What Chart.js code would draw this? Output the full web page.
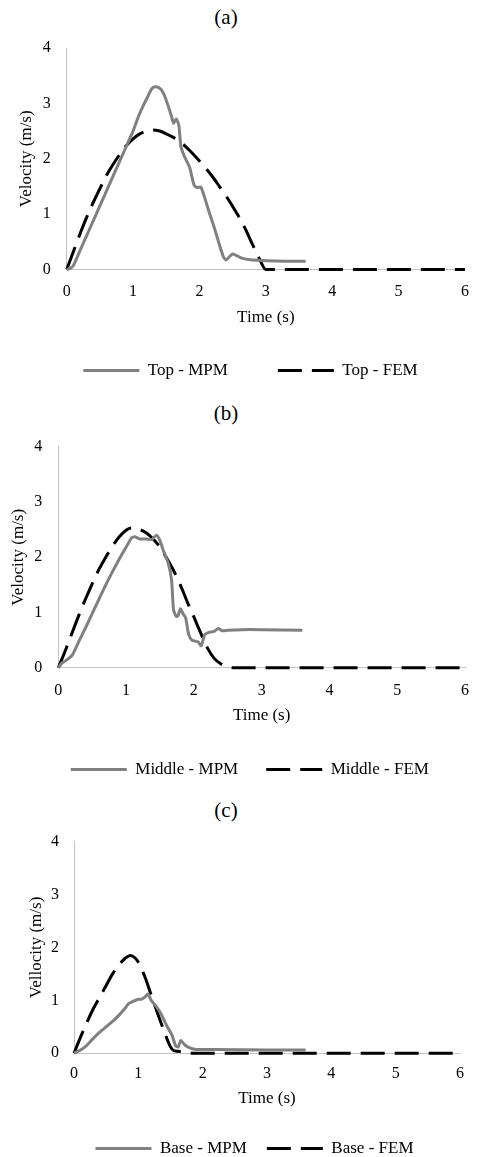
<!DOCTYPE html>
<html>
<head>
<meta charset="utf-8">
<script src="https://cdn.jsdelivr.net/npm/chart.js@4.4.1/dist/chart.umd.min.js"></script>
<style>
  html, body { margin: 0; padding: 0; background: #fff; overflow: hidden; }
  body { width: 482px; height: 1157px; position: relative; }
  canvas { position: absolute; left: 0; }
  .panel-label {
    position: absolute; left: 0; width: 452px; text-align: center;
    font-family: "Liberation Serif", "Times New Roman", serif;
    font-size: 21px; line-height: 24px; color: #000;
  }
</style>
</head>
<body>
<div class="panel-label" style="top:5px">(a)</div>
<div class="panel-label" style="top:401px">(b)</div>
<div class="panel-label" style="top:798px">(c)</div>
<canvas id="chart-a" width="482" height="389" style="top:0px"></canvas>
<canvas id="chart-b" width="482" height="399" style="top:389px"></canvas>
<canvas id="chart-c" width="482" height="379" style="top:788px"></canvas>
<script>
// ---- data (time in s, velocity in m/s) ----
const xTicks = [0, 1, 2, 3, 4, 5, 6];
const yTicks = [0, 1, 2, 3, 4];

// (a) Top
const timeTopMPM = [0, 0.05, 0.1, 0.2, 0.3, 0.4, 0.5, 0.6, 0.7, 0.8, 0.9, 1.0, 1.08, 1.15, 1.22, 1.28, 1.33, 1.38, 1.43, 1.48, 1.53, 1.58, 1.61, 1.65, 1.69, 1.72, 1.77, 1.85, 1.92, 1.97, 2.02, 2.07, 2.15, 2.22, 2.3, 2.36, 2.4, 2.45, 2.5, 2.56, 2.65, 2.8, 3.0, 3.3, 3.6];
const velTopMPM = [0, 0.02, 0.07, 0.34, 0.61, 0.88, 1.15, 1.42, 1.69, 1.96, 2.23, 2.5, 2.76, 2.95, 3.12, 3.26, 3.30, 3.29, 3.24, 3.12, 2.95, 2.76, 2.64, 2.72, 2.6, 2.22, 2.05, 1.85, 1.52, 1.48, 1.49, 1.33, 1.02, 0.77, 0.45, 0.23, 0.17, 0.23, 0.28, 0.25, 0.2, 0.17, 0.16, 0.15, 0.15];
const timeTopFEM = [0, 0.1, 0.2, 0.3, 0.4, 0.5, 0.6, 0.7, 0.8, 0.9, 1.0, 1.1, 1.2, 1.3, 1.4, 1.5, 1.6, 1.7, 1.8, 1.9, 2.0, 2.1, 2.2, 2.3, 2.4, 2.5, 2.6, 2.7, 2.8, 2.9, 3.0, 6.0];
const velTopFEM = [0, 0.32, 0.64, 0.94, 1.21, 1.46, 1.7, 1.9, 2.08, 2.24, 2.36, 2.45, 2.5, 2.52, 2.5, 2.45, 2.39, 2.31, 2.21, 2.09, 1.96, 1.82, 1.67, 1.5, 1.33, 1.14, 0.94, 0.71, 0.45, 0.2, 0, 0];

// (b) Middle
const timeMidMPM = [0, 0.05, 0.1, 0.2, 0.3, 0.4, 0.5, 0.6, 0.7, 0.8, 0.9, 1.0, 1.08, 1.13, 1.2, 1.3, 1.38, 1.45, 1.5, 1.55, 1.62, 1.67, 1.7, 1.74, 1.77, 1.8, 1.84, 1.88, 1.92, 1.97, 2.06, 2.11, 2.16, 2.22, 2.3, 2.36, 2.42, 2.5, 2.7, 3.0, 3.6];
const velMidMPM = [0, 0.08, 0.12, 0.22, 0.47, 0.72, 0.98, 1.24, 1.5, 1.74, 1.97, 2.18, 2.35, 2.37, 2.33, 2.33, 2.32, 2.4, 2.3, 2.12, 1.9, 1.6, 1.05, 0.93, 0.95, 1.07, 0.98, 0.9, 0.62, 0.5, 0.47, 0.4, 0.6, 0.64, 0.66, 0.71, 0.67, 0.68, 0.69, 0.69, 0.68];
const timeMidFEM = [0, 0.1, 0.2, 0.3, 0.4, 0.5, 0.6, 0.7, 0.8, 0.9, 1.0, 1.08, 1.2, 1.3, 1.4, 1.5, 1.6, 1.7, 1.8, 1.9, 2.0, 2.1, 2.2, 2.3, 2.4, 2.5, 2.6, 6.0];
const velMidFEM = [0, 0.3, 0.62, 0.94, 1.24, 1.52, 1.78, 2.0, 2.2, 2.37, 2.49, 2.53, 2.5, 2.44, 2.33, 2.18, 1.98, 1.76, 1.5, 1.2, 0.92, 0.63, 0.36, 0.17, 0.07, 0.02, 0, 0];

// (c) Base
const timeBaseMPM = [0, 0.1, 0.2, 0.3, 0.4, 0.5, 0.6, 0.7, 0.8, 0.85, 0.9, 1.0, 1.05, 1.1, 1.15, 1.2, 1.28, 1.35, 1.45, 1.52, 1.58, 1.62, 1.66, 1.72, 1.8, 1.9, 2.2, 3.0, 3.6];
const velBaseMPM = [0, 0.06, 0.15, 0.28, 0.4, 0.5, 0.6, 0.72, 0.86, 0.94, 0.97, 1.02, 1.02, 1.06, 1.12, 1.0, 0.88, 0.75, 0.5, 0.35, 0.14, 0.12, 0.24, 0.16, 0.1, 0.07, 0.07, 0.06, 0.06];
const timeBaseFEM = [0, 0.1, 0.2, 0.3, 0.4, 0.5, 0.6, 0.7, 0.8, 0.88, 0.95, 1.0, 1.1, 1.2, 1.3, 1.4, 1.5, 1.55, 1.7, 1.85, 6.0];
const velBaseFEM = [0, 0.3, 0.58, 0.84, 1.06, 1.28, 1.5, 1.67, 1.8, 1.85, 1.8, 1.72, 1.45, 1.1, 0.75, 0.42, 0.12, 0.05, 0.03, 0, 0];

Chart.defaults.font.family = '"Liberation Serif", "Times New Roman", serif';
Chart.defaults.color = '#000';

const GREY = '#808080';
const AXIS = '#c4c4c4';

function pts(xs, ys) {
  return xs.map((x, i) => ({ x: x, y: ys[i] }));
}

// legend items: take line colour / width / dash from the dataset, not the point
function legendItems(chart) {
  const items = Chart.defaults.plugins.legend.labels.generateLabels(chart);
  items.forEach((it) => {
    const ds = chart.data.datasets[it.datasetIndex];
    it.strokeStyle = ds.borderColor;
    it.fillStyle = ds.borderColor;
    it.lineWidth = ds.borderWidth;
    it.lineDash = ds.borderDash || [];
    it.lineCap = 'butt';
  });
  return items;
}

function makePanel(id, o) {
  return new Chart(document.getElementById(id), {
    type: 'line',
    data: {
      datasets: [
        {
          label: o.mpmLabel,
          data: pts(o.tMPM, o.vMPM),
          borderColor: GREY,
          backgroundColor: GREY,
          borderWidth: 3,
          pointRadius: 0,
          tension: 0.2,
          borderJoinStyle: 'round',
          fill: false,
          clip: false,
        },
        {
          label: o.femLabel,
          data: pts(o.tFEM, o.vFEM),
          borderColor: '#000',
          backgroundColor: '#000',
          borderWidth: 3,
          borderDash: [24, 10],
          pointRadius: 0,
          cubicInterpolationMode: 'monotone',
          fill: false,
          clip: false,
        },
      ],
    },
    options: {
      responsive: false,
      animation: false,
      devicePixelRatio: 1,
      layout: { padding: { left: o.padL, right: o.padR, top: o.padT, bottom: 0 } },
      scales: {
        x: {
          type: 'linear',
          min: xTicks[0],
          max: xTicks[xTicks.length - 1],
          afterBuildTicks: (s) => { s.ticks = xTicks.map((v) => ({ value: v })); },
          afterFit: (s) => { s.height = o.xH; },
          ticks: { font: { size: 16 }, padding: o.xTickPad, color: '#000' },
          grid: { display: false, drawTicks: false },
          border: { display: true, color: AXIS, width: 1 },
          title: {
            display: true, text: 'Time (s)', color: '#000',
            font: { size: 17 }, padding: { top: 0, bottom: o.xTitlePadB },
          },
        },
        y: {
          min: yTicks[0],
          max: yTicks[yTicks.length - 1],
          afterBuildTicks: (s) => { s.ticks = yTicks.map((v) => ({ value: v })); },
          afterFit: (s) => { s.width = o.yW; },
          ticks: { font: { size: 16 }, padding: o.yTickPad, color: '#000' },
          grid: { display: false, drawTicks: false },
          border: { display: true, color: AXIS, width: 1 },
          title: {
            display: true, text: o.yTitle, color: '#000',
            font: { size: 17 }, padding: { top: o.yTitlePadT, bottom: 0 },
          },
        },
      },
      plugins: {
        tooltip: { enabled: false },
        title: { display: false },
        legend: {
          display: true,
          position: 'bottom',
          labels: {
            usePointStyle: true,
            pointStyle: 'line',
            pointStyleWidth: 56,
            padding: o.legendPad,
            color: '#000',
            font: { size: 17 },
            generateLabels: legendItems,
          },
        },
      },
    },
  });
}

makePanel('chart-a', {
  mpmLabel: 'Top - MPM', femLabel: 'Top - FEM', yTitle: 'Velocity (m/s)',
  tMPM: timeTopMPM, vMPM: velTopMPM, tFEM: timeTopFEM, vFEM: velTopFEM,
  padL: 28, padR: 9, padT: 48, yW: 38.7, yTickPad: 16, yTitlePadT: -11.2,
  xH: 42.5, xTickPad: 13, xTitlePadB: -15.7, legendPad: 50,
});

makePanel('chart-b', {
  mpmLabel: 'Middle - MPM', femLabel: 'Middle - FEM', yTitle: 'Velocity (m/s)',
  tMPM: timeMidMPM, vMPM: velMidMPM, tFEM: timeMidFEM, vFEM: velMidFEM,
  padL: 33, padR: 15.3, padT: 57.7, yW: 25.3, yTickPad: 16, yTitlePadT: -24.9,
  xH: 65.2, xTickPad: 13, xTitlePadB: 7.3, legendPad: 28,
});

makePanel('chart-c', {
  mpmLabel: 'Base - MPM', femLabel: 'Base - FEM', yTitle: 'Vellocity (m/s)',
  tMPM: timeBaseMPM, vMPM: velBaseMPM, tFEM: timeBaseFEM, vFEM: velBaseFEM,
  padL: 49, padR: 22, padT: 53.7, yW: 25, yTickPad: 15, yTitlePadT: -22.5,
  xH: 66.8, xTickPad: 11, xTitlePadB: 11.3, legendPad: 20,
});
</script>
</body>
</html>
